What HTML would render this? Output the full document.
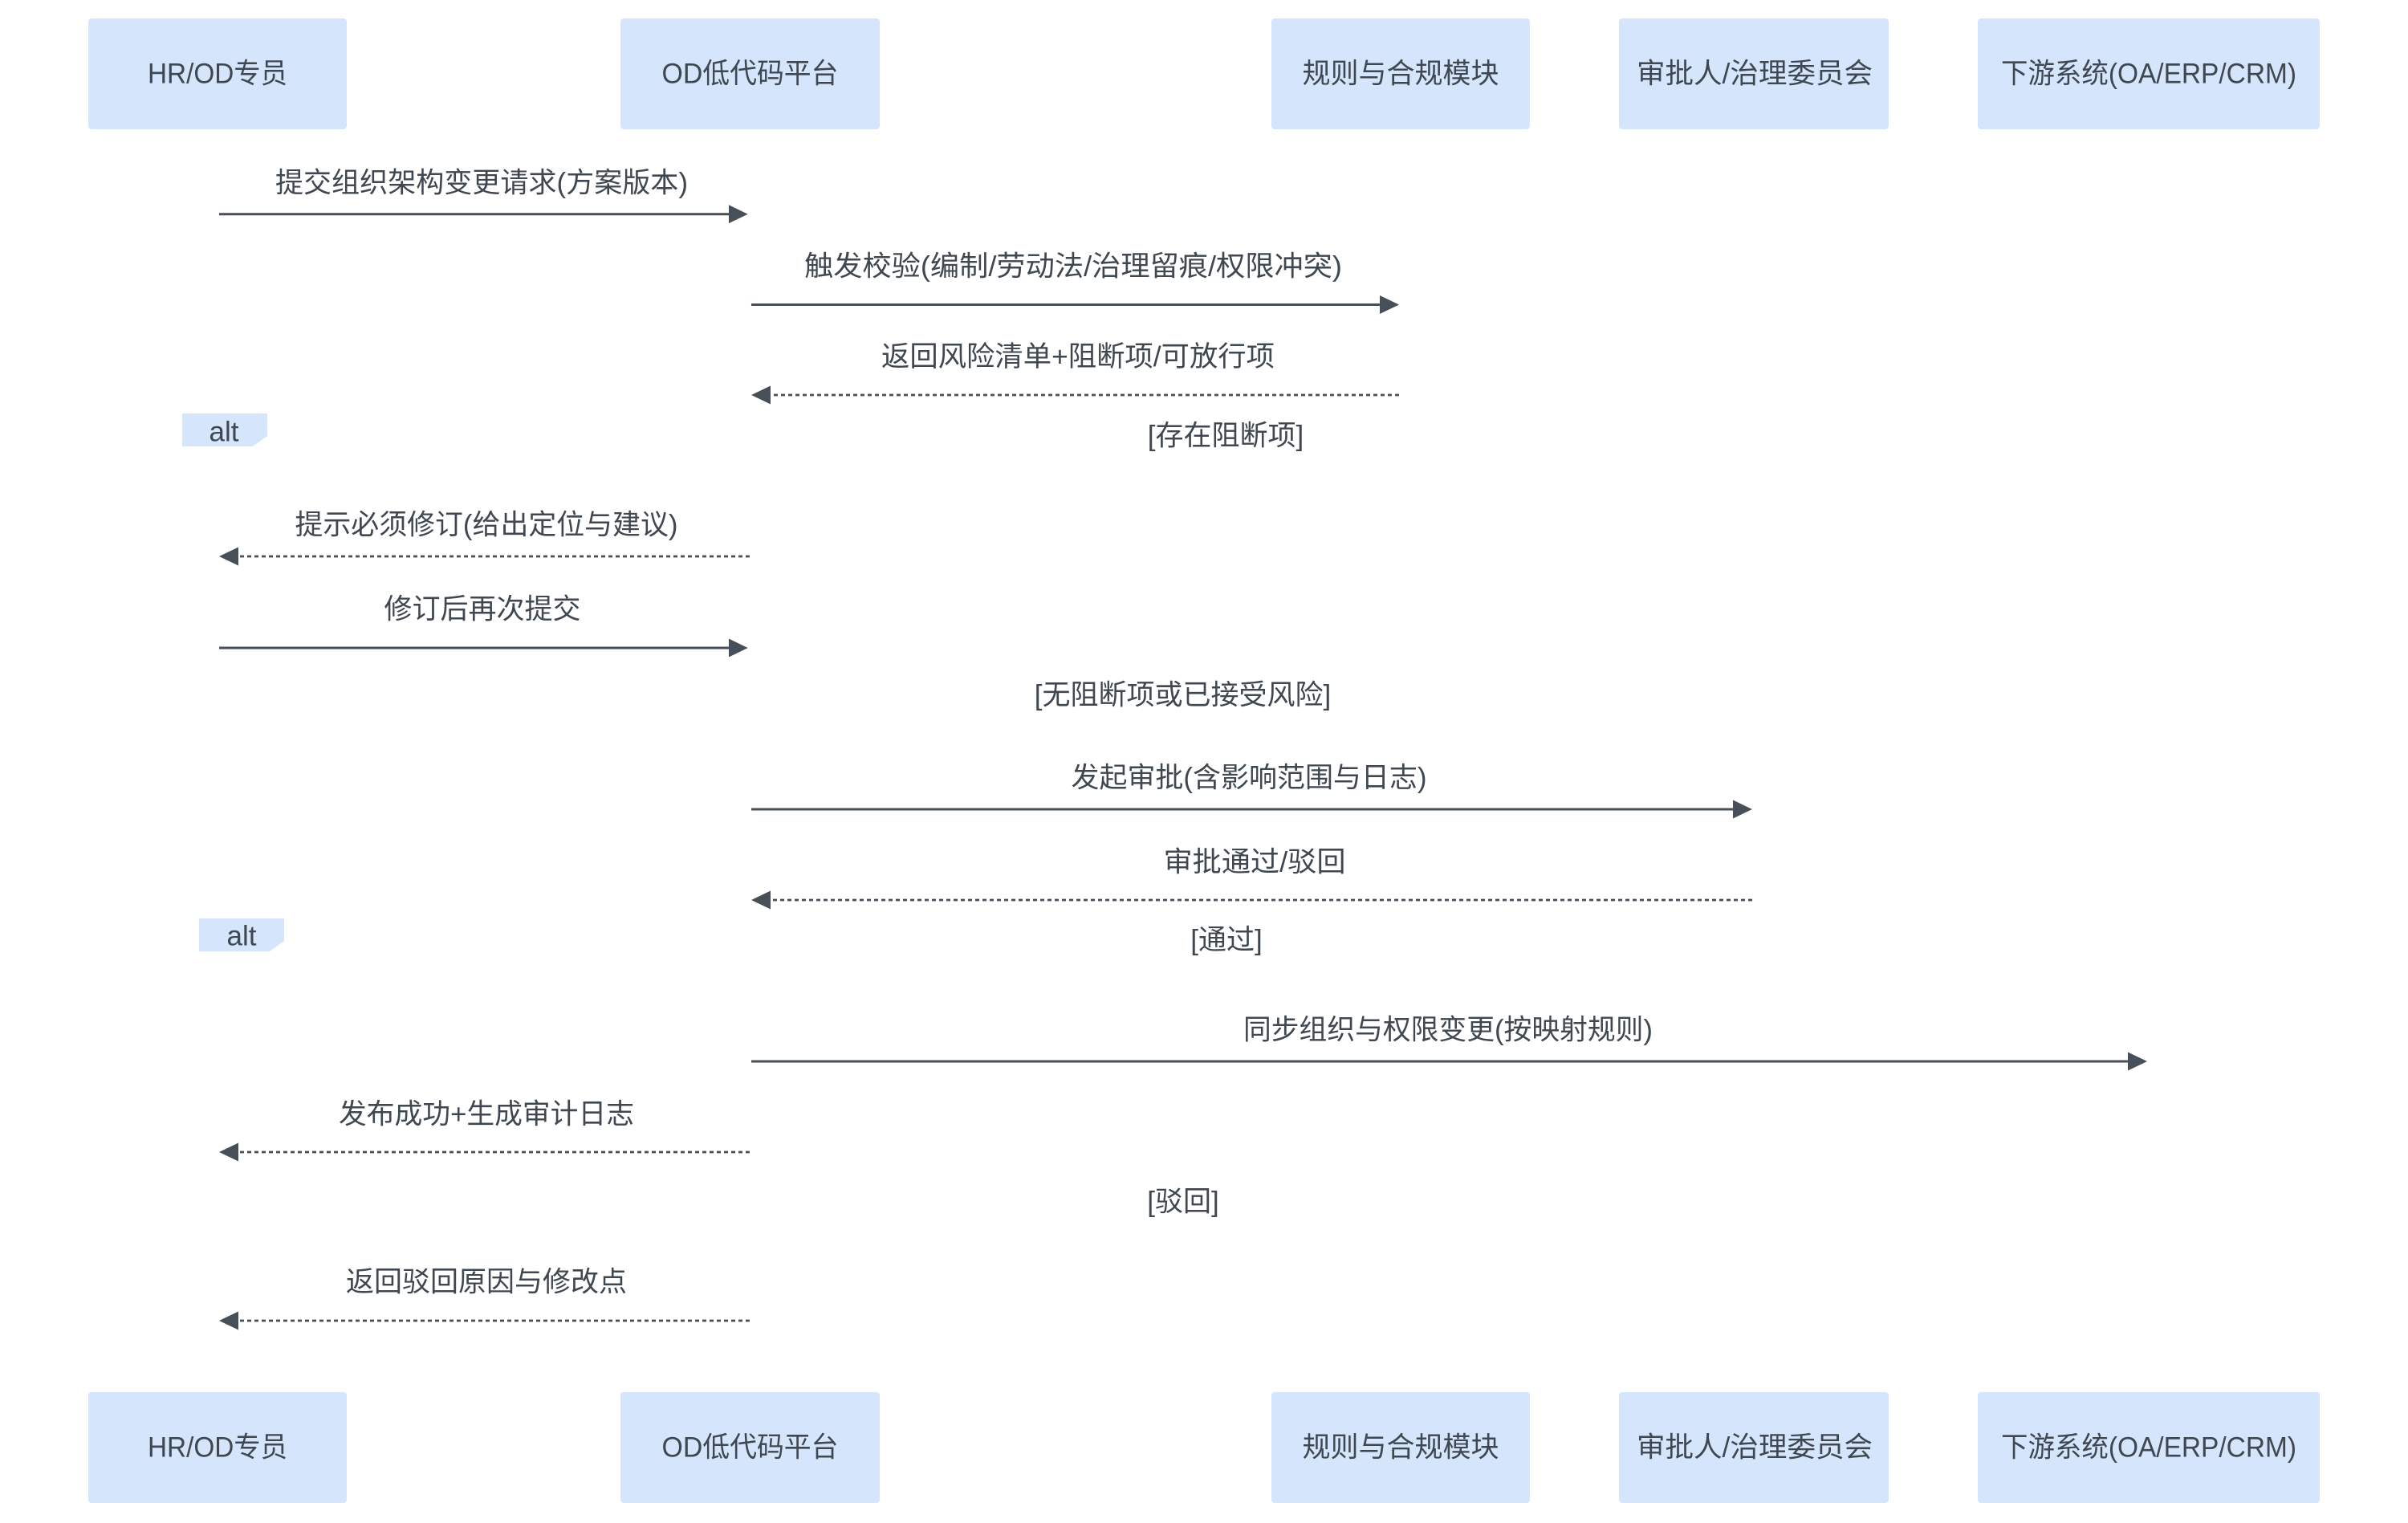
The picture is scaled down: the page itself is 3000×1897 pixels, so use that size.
<!DOCTYPE html>
<html>
<head>
<meta charset="utf-8">
<style>
  html, body { margin:0; padding:0; background:#ffffff; }
  body { width:3000px; height:1897px; overflow:hidden; }
  svg { display:block; }
  text { font-family: "Liberation Sans", "Noto Sans CJK SC", sans-serif; font-size:35px; fill:#3f4750; }
</style>
</head>
<body>
<svg width="3000" height="1897" viewBox="0 0 3000 1897" xmlns="http://www.w3.org/2000/svg">
  <rect x="0" y="0" width="3000" height="1897" fill="#ffffff"/>

  <!-- Top actor boxes -->
  <g fill="#d5e6fc">
    <rect x="110" y="23" width="322" height="138" rx="4"/>
    <rect x="773" y="23" width="323" height="138" rx="4"/>
    <rect x="1584" y="23" width="322" height="138" rx="4"/>
    <rect x="2017" y="23" width="336" height="138" rx="4"/>
    <rect x="2464" y="23" width="426" height="138" rx="4"/>
  </g>
  <g text-anchor="middle" dominant-baseline="central" lengthAdjust="spacingAndGlyphs">
    <text x="271" y="92" textLength="174" lengthAdjust="spacingAndGlyphs">HR/OD专员</text>
    <text x="934.5" y="92" textLength="220" lengthAdjust="spacingAndGlyphs">OD低代码平台</text>
    <text x="1745" y="92">规则与合规模块</text>
    <text x="2186" y="92" textLength="294" lengthAdjust="spacingAndGlyphs">审批人/治理委员会</text>
    <text x="2677" y="92" textLength="368" lengthAdjust="spacingAndGlyphs">下游系统(OA/ERP/CRM)</text>
  </g>

  <!-- Bottom actor boxes -->
  <g fill="#d5e6fc">
    <rect x="110" y="1734" width="322" height="138" rx="4"/>
    <rect x="773" y="1734" width="323" height="138" rx="4"/>
    <rect x="1584" y="1734" width="322" height="138" rx="4"/>
    <rect x="2017" y="1734" width="336" height="138" rx="4"/>
    <rect x="2464" y="1734" width="426" height="138" rx="4"/>
  </g>
  <g text-anchor="middle" dominant-baseline="central">
    <text x="271" y="1803" textLength="174" lengthAdjust="spacingAndGlyphs">HR/OD专员</text>
    <text x="934.5" y="1803" textLength="220" lengthAdjust="spacingAndGlyphs">OD低代码平台</text>
    <text x="1745" y="1803">规则与合规模块</text>
    <text x="2186" y="1803" textLength="294" lengthAdjust="spacingAndGlyphs">审批人/治理委员会</text>
    <text x="2677" y="1803" textLength="368" lengthAdjust="spacingAndGlyphs">下游系统(OA/ERP/CRM)</text>
  </g>

  <!-- Alt tags -->
  <polygon points="227,515 333,515 333,543 315,556 227,556" fill="#d5e6fc"/>
  <polygon points="248,1144 354,1144 354,1172 336,1185 248,1185" fill="#d5e6fc"/>
  <g text-anchor="middle" dominant-baseline="central">
    <text x="279" y="538">alt</text>
    <text x="301" y="1166">alt</text>
  </g>

  <!-- Section labels -->
  <g text-anchor="middle" dominant-baseline="central">
    <text x="1527" y="543">[存在阻断项]</text>
    <text x="1473.5" y="866">[无阻断项或已接受风险]</text>
    <text x="1528" y="1171">[通过]</text>
    <text x="1474" y="1497">[驳回]</text>
  </g>

  <!-- Messages: lines -->
  <g stroke="#474f58" stroke-width="3" fill="none">
    <line x1="273" y1="266.7" x2="912" y2="266.7"/>
    <line x1="936" y1="379.5" x2="1723" y2="379.5"/>
    <line x1="273" y1="807" x2="912" y2="807"/>
    <line x1="936" y1="1008" x2="2163" y2="1008"/>
    <line x1="936" y1="1322" x2="2655" y2="1322"/>
  </g>
  <g stroke="#474f58" stroke-width="2.8" fill="none" stroke-dasharray="5,4">
    <line x1="1743" y1="492" x2="956" y2="492"/>
    <line x1="934" y1="693" x2="293" y2="693"/>
    <line x1="2183" y1="1121" x2="956" y2="1121"/>
    <line x1="934" y1="1435" x2="293" y2="1435"/>
    <line x1="934" y1="1645" x2="293" y2="1645"/>
  </g>

  <!-- Arrowheads -->
  <g fill="#474f58">
    <polygon points="931.7,266.7 908,255.3 908,278.1"/>
    <polygon points="1743,379.5 1719,368 1719,391"/>
    <polygon points="931.7,807 908,795.5 908,818.5"/>
    <polygon points="2183,1008 2159,996.5 2159,1019.5"/>
    <polygon points="2675,1322 2651,1310.5 2651,1333.5"/>
    <polygon points="936,492 960,480.5 960,503.5"/>
    <polygon points="273,693 297,681.5 297,704.5"/>
    <polygon points="936,1121 960,1109.5 960,1132.5"/>
    <polygon points="273,1435 297,1423.5 297,1446.5"/>
    <polygon points="273,1645 297,1633.5 297,1656.5"/>
  </g>

  <!-- Message labels -->
  <g text-anchor="middle" dominant-baseline="central">
    <text x="600" y="228" textLength="514" lengthAdjust="spacingAndGlyphs">提交组织架构变更请求(方案版本)</text>
    <text x="1337" y="332" textLength="670" lengthAdjust="spacingAndGlyphs">触发校验(编制/劳动法/治理留痕/权限冲突)</text>
    <text x="1343" y="444.5" textLength="490" lengthAdjust="spacingAndGlyphs">返回风险清单+阻断项/可放行项</text>
    <text x="606" y="654" textLength="477" lengthAdjust="spacingAndGlyphs">提示必须修订(给出定位与建议)</text>
    <text x="601" y="759">修订后再次提交</text>
    <text x="1556" y="969" textLength="443" lengthAdjust="spacingAndGlyphs">发起审批(含影响范围与日志)</text>
    <text x="1563" y="1074" textLength="227" lengthAdjust="spacingAndGlyphs">审批通过/驳回</text>
    <text x="1804" y="1283" textLength="510" lengthAdjust="spacingAndGlyphs">同步组织与权限变更(按映射规则)</text>
    <text x="606" y="1388" textLength="368" lengthAdjust="spacingAndGlyphs">发布成功+生成审计日志</text>
    <text x="606" y="1597">返回驳回原因与修改点</text>
  </g>
</svg>
</body>
</html>
